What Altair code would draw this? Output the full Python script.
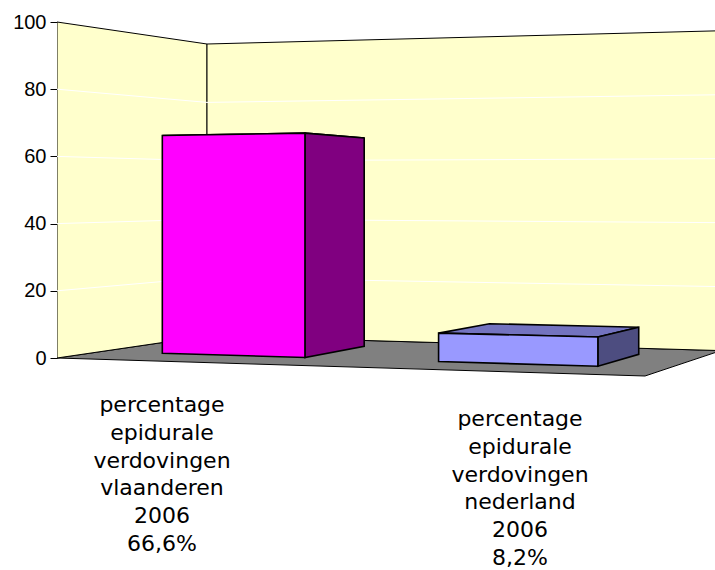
import altair as alt
import pandas as pd

# ---------------- data ----------------
label_lines = [
    ["percentage", "epidurale", "verdovingen", "vlaanderen", "2006", "66,6%"],
    ["percentage", "epidurale", "verdovingen", "nederland", "2006", "8,2%"],
]
values = [66.6, 8.2]
y_ticks = [0, 20, 40, 60, 80, 100]
grid_values = [20, 40, 60, 80]

# ---------------- style ----------------
front_colors = ["#FF00FF", "#9999FF"]
side_colors = ["#800080", "#4D4D80"]
top_colors = ["#C000C0", "#7373BF"]
WALL = "#FFFFCC"
FLOOR = "#808080"

# ---------------- layout / projection ----------------
PLOT_LEFT = 57
W, H = 715 - PLOT_LEFT, 570
ZERO_PX, PX_PER_UNIT = 358, 3.36
Y_MAX = 100
# floor corners (fl = front-left ...) of the 3D box: screen x, floor level, height factor
CX = dict(fl=57, fr=645, bl=207, br=721)
CF = dict(fl=0.0, fr=-5.36, bl=6.55, br=2.20)
CS = dict(fl=1.0, fr=1.131, bl=0.869, br=0.952)
U_WARP = (0.895, 0.111)       # perspective foreshortening along the category axis
BAR_HALF = 0.1326             # half bar width in category units
DEPTH = (0.30, 0.78)
LABEL_X = [162, 520]
LABEL_BASE_PX = [412, 426]
LINE_H = 27.8


def warp(t):
    return U_WARP[0] * t + U_WARP[1] * t * t


def bil(c, u, v):
    return (1 - u) * (1 - v) * c["fl"] + u * (1 - v) * c["fr"] + (1 - u) * v * c["bl"] + u * v * c["br"]


def proj(u, v, y):
    return bil(CX, u, v), bil(CF, u, v) + bil(CS, u, v) * y


def poly_rows(pid, pts3d, fill):
    pts = [proj(*p) for p in pts3d]
    xs = sorted(set(round(p[0], 6) for p in pts))
    n = len(pts)
    rows = []
    for k, x in enumerate(xs):
        ys = []
        for i in range(n):
            (x1, y1), (x2, y2) = pts[i], pts[(i + 1) % n]
            if abs(x1 - x2) < 1e-9:
                if abs(x1 - x) < 1e-5:
                    ys += [y1, y2]
            elif min(x1, x2) - 1e-5 <= x <= max(x1, x2) + 1e-5:
                t = (x - x1) / (x2 - x1)
                ys.append(y1 + t * (y2 - y1))
        rows.append(dict(poly=pid, k=k, px=x, lo=min(ys), hi=max(ys), fill=fill))
    return rows


# walls and floor
room = []
room += poly_rows("floor", [(0, 0, 0), (1, 0, 0), (1, 1, 0), (0, 1, 0)], FLOOR)
room += poly_rows("leftwall", [(0, 0, 0), (0, 1, 0), (0, 1, Y_MAX), (0, 0, Y_MAX)], WALL)
room += poly_rows("backwall", [(0, 1, 0), (1, 1, 0), (1, 1, Y_MAX), (0, 1, Y_MAX)], WALL)
room_df = pd.DataFrame(room)

# gridlines on the walls
grid = []
for g in grid_values:
    for k, (u, v) in enumerate([(0, 0), (0, 1), (1, 1)]):
        x, y = proj(u, v, g)
        grid.append(dict(gid=str(g), k=k, px=x, val=y))
grid_df = pd.DataFrame(grid)

# bars
n = len(values)
tops, faces = [], []
v0, v1 = DEPTH
for i, val in enumerate(values):
    c = (i + 0.5) / n
    u0, u1 = warp(c - BAR_HALF), warp(c + BAR_HALF)
    tops += poly_rows(f"top{i}", [(u0, v0, val), (u1, v0, val), (u1, v1, val), (u0, v1, val)], top_colors[i])
    faces += poly_rows(f"side{i}", [(u1, v0, 0), (u1, v1, 0), (u1, v1, val), (u1, v0, val)], side_colors[i])
    faces += poly_rows(f"front{i}", [(u0, v0, 0), (u1, v0, 0), (u1, v0, val), (u0, v0, val)], front_colors[i])
tops_df = pd.DataFrame(tops)
faces_df = pd.DataFrame(faces)

# category labels
lab_df = pd.DataFrame(
    dict(
        label=["\n".join(l) for l in label_lines],
        tx=LABEL_X,
        ty=[(ZERO_PX - b) / PX_PER_UNIT for b in LABEL_BASE_PX],
    )
)

xs = alt.Scale(domain=[PLOT_LEFT, 715], nice=False, zero=False)
ys = alt.Scale(domain=[(ZERO_PX - H) / PX_PER_UNIT, ZERO_PX / PX_PER_UNIT], nice=False, zero=False)

yaxis = alt.Axis(
    values=y_ticks, domain=False, grid=False, tickSize=7, tickColor="black", tickWidth=1,
    labelFontSize=20, labelFont="Liberation Sans", labelColor="black", labelPadding=4, title=None,
)


def area_layer(df, sw):
    return alt.Chart(df).mark_area(
        orient="vertical", stroke="black", strokeWidth=sw, clip=True, interpolate="linear"
    ).encode(
        x=alt.X("px:Q", scale=xs, axis=None),
        y=alt.Y("hi:Q", scale=ys, axis=yaxis, stack=None),
        y2="lo:Q",
        detail="poly:N",
        color=alt.Color("fill:N", scale=None),
    )


room_layer = area_layer(room_df, 1)
grid_layer = alt.Chart(grid_df).mark_line(color="white", strokeWidth=1, clip=True).encode(
    x=alt.X("px:Q", scale=xs, axis=None),
    y=alt.Y("val:Q", scale=ys, axis=yaxis),
    detail="gid:N",
    order="k:Q",
)
top_layer = area_layer(tops_df, 1.6)
face_layer = area_layer(faces_df, 1.6)
text_layer = alt.Chart(lab_df).mark_text(
    font="DejaVu Sans", fontSize=22, lineHeight=LINE_H, align="center", baseline="alphabetic",
    lineBreak="\n", color="black",
).encode(
    x=alt.X("tx:Q", scale=xs, axis=None),
    y=alt.Y("ty:Q", scale=ys, axis=yaxis),
    text="label:N",
)

chart = (
    alt.layer(room_layer, grid_layer, top_layer, face_layer, text_layer)
    .properties(width=W, height=H, autosize=alt.AutoSizeParams(type="none"),
                padding={"left": PLOT_LEFT, "top": 0, "right": 0, "bottom": 0},
                background="white")
    .configure_view(stroke=None, strokeWidth=0)
)

chart.save("out.html", embed_options={"renderer": "svg", "actions": False})
